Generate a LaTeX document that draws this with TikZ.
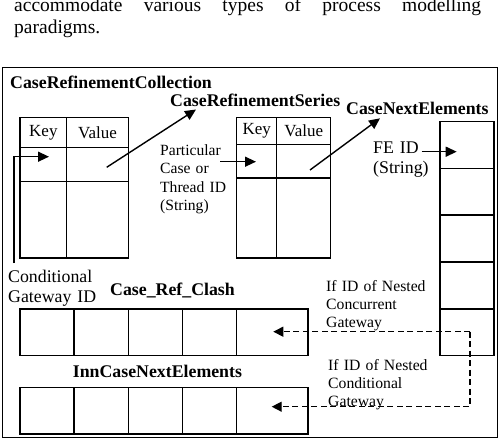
\documentclass[tikz,border=0pt]{standalone}
\usepackage{fontspec}
\setmainfont{Liberation Serif}
\usetikzlibrary{arrows.meta}
\tikzset{
  cell/.style={draw, line width=1.4pt, inner sep=0pt, anchor=north west, font=\fontsize{17}{20}\selectfont},
  ttl/.style={anchor=base west, inner sep=0pt, font=\fontsize{17.8}{20}\selectfont\bfseries},
  lbl/.style={anchor=base west, inner sep=0pt, align=left, text width=110pt},
  arr/.style={line width=1.4pt, -{Triangle[length=11pt,width=10pt]}},
  darr/.style={line width=1.3pt, dash pattern=on 6pt off 3.5pt, -{Triangle[length=10pt,width=10pt]}},
}
\begin{document}
\begin{tikzpicture}[x=1pt,y=-1pt]
\useasboundingbox (0,0) rectangle (500,438);
% paragraph text
\node[anchor=base west, inner sep=0pt, font=\fontsize{19.5}{22}\selectfont] (par1) at (14,11.5)
  {\makebox[467pt][s]{accommodate various types of process modelling}};
\node[anchor=base west, inner sep=0pt, font=\fontsize{19.5}{22}\selectfont] (par2) at (14,34) {paradigms.};
% outer frame
\node[draw, line width=1.4pt, anchor=north west, inner sep=0pt, minimum width=495pt, minimum height=369.5pt] (frame) at (2,67) {};
% titles
\node[ttl] (tColl) at (10,89) {CaseRefinementCollection};
\node[ttl] (tSer) at (170,106.7) {CaseRefinementSeries};
\node[ttl] (tNext) at (346,115) {CaseNextElements};
\node[ttl] (tClash) at (110,295) {Case\_Ref\_Clash};
\node[ttl] (tInn) at (72.7,377.5) {InnCaseNextElements};
% left table
\node[cell,minimum width=46.7pt,minimum height=30pt] (aK) at (19.3,116.7) {Key};
\node[cell,minimum width=61.7pt,minimum height=30pt] (aV) at (66,116.7) {Value};
\node[cell,minimum width=46.7pt,minimum height=34pt] (aK1) at (19.3,146.7) {};
\node[cell,minimum width=61.7pt,minimum height=34pt] (aV1) at (66,146.7) {};
\node[cell,minimum width=46.7pt,minimum height=76.6pt] (aK2) at (19.3,180.7) {};
\node[cell,minimum width=61.7pt,minimum height=76.6pt] (aV2) at (66,180.7) {};
% middle table
\node[cell,minimum width=40pt,minimum height=27.3pt] (bK) at (236,116.7) {Key};
\node[cell,minimum width=54pt,minimum height=27.3pt] (bV) at (276,116.7) {Value};
\node[cell,minimum width=40pt,minimum height=33.3pt] (bK1) at (236,144) {};
\node[cell,minimum width=54pt,minimum height=33.3pt] (bV1) at (276,144) {};
\node[cell,minimum width=40pt,minimum height=80pt] (bK2) at (236,177.3) {};
\node[cell,minimum width=54pt,minimum height=80pt] (bV2) at (276,177.3) {};
% right column
\foreach \i in {0,...,4}{
  \node[cell,minimum width=54pt,minimum height=46.86pt] (c\i) at (439.3,120.7+46.86*\i) {};
}
% Case_Ref_Clash and InnCaseNextElements rows
\foreach \x/\w/\n in {19.3/54/1,73.3/54.4/2,127.7/54/3,181.7/54/4,235.7/71.6/5}{
  \node[cell,minimum width=\w pt,minimum height=46.7pt] (d\n) at (\x,308.3) {};
  \node[cell,minimum width=\w pt,minimum height=46.6pt] (e\n) at (\x,386.7) {};
}
% labels
\node[lbl, font=\fontsize{17.8}{20}\selectfont] (gw) at (8,282) {Conditional\\Gateway ID};
\node[lbl, font=\fontsize{15.6}{18.3}\selectfont] (pc) at (160,155.5) {Particular\\Case or\\Thread ID\\(String)};
\node[lbl, font=\fontsize{17.8}{20}\selectfont] (fe) at (373,153.3) {FE ID\\(String)};
\node[lbl, font=\fontsize{15.7}{18}\selectfont] (nc) at (326,291.5) {If ID of Nested\\Concurrent\\Gateway};
\node[lbl, font=\fontsize{15.7}{18.3}\selectfont] (nd) at (328,370) {If ID of Nested\\Conditional\\Gateway};
% connectors
\coordinate (p1) at (14,263);
\coordinate (p1t) at (49,156.7);
\draw[arr] (p1) |- (p1t);
\coordinate (p2) at (106.7,167.3);
\coordinate (p2t) at (196,109.5);
\draw[arr] (p2) -- (p2t);
\coordinate (p3) at (220,161.7);
\coordinate (p3t) at (256,161.7);
\draw[arr] (p3) -- (p3t);
\coordinate (p4) at (310,170);
\coordinate (p4t) at (380,118.3);
\draw[arr] (p4) -- (p4t);
\coordinate (p5) at (421.7,151.7);
\coordinate (p5t) at (456.7,151.7);
\draw[arr] (p5) -- (p5t);
\coordinate (q0) at (470,331.7);
\coordinate (q1t) at (273.3,331.7);
\coordinate (q2) at (470,406.7);
\coordinate (q2t) at (271.7,406.7);
\draw[darr] (q0) -- (q1t);
\draw[darr] (q0) -- (q2) -- (q2t);
\end{tikzpicture}
\end{document}
